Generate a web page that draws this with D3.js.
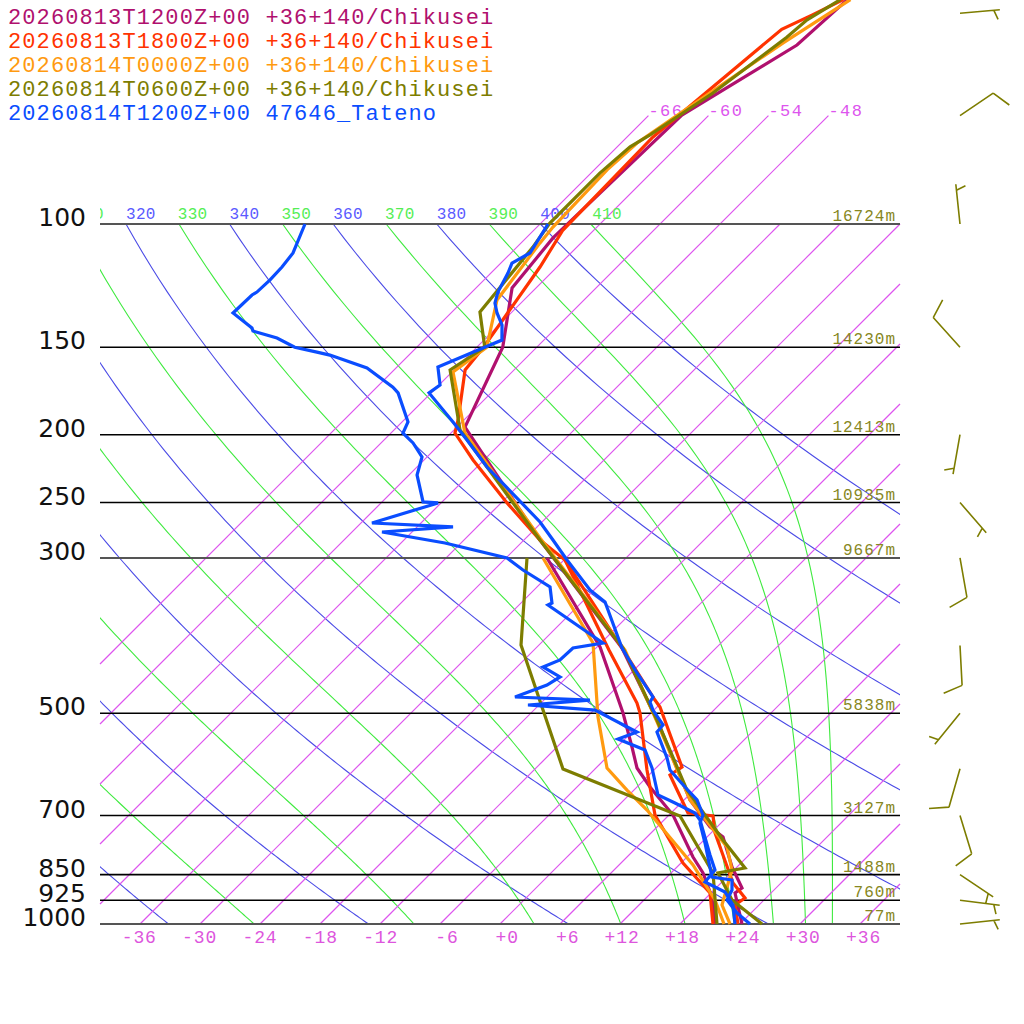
<!DOCTYPE html>
<html><head><meta charset="utf-8">
<script src="https://cdn.jsdelivr.net/npm/d3@7"></script>
<style>body{margin:0;background:#fff}svg{display:block}</style>
</head><body>
<svg id="c" width="1024" height="1024"></svg>
<script>
// ---------------- DATA ----------------
const seriesNames = [
  "20260813T1200Z+00 +36+140/Chikusei",
  "20260813T1800Z+00 +36+140/Chikusei",
  "20260814T0000Z+00 +36+140/Chikusei",
  "20260814T0600Z+00 +36+140/Chikusei",
  "20260814T1200Z+00 47646_Tateno"
];
const seriesColors = ["#b0106e", "#ff3300", "#ff9a10", "#7d7d00", "#0a4dff"];

// [pressure hPa, temperature degC]
const s1T = [[47.8,-57.7],[55.5,-58.2],[69.9,-62.7],[104.7,-63.3],[123.4,-62.4],[150,-57.4],[195,-53.2],[282.8,-34.4],[403.4,-15.4],[511.2,-4.7],[665,6.6],[726.8,11.3],[751.1,13.6],[829,17.5],[888.3,20.6],[903,20.4],[1000,24.2]];
const s1Td = [[300,-31.9],[402,-17.7],[499.5,-8.8],[558.7,-4.5],[598.6,-1.9],[637.2,1.3],[698.7,6.4],[802.2,12.6],[845.5,15.2],[924.1,18.9],[1000,21.5]];

const s2T = [[47.8,-58.1],[50.3,-59.7],[52.7,-61.3],[75.1,-63.4],[102,-63.1],[115.2,-61.7],[150.4,-59.3],[161.6,-58.9],[190.5,-54.6],[198.9,-53.6],[217.3,-49.1],[250.3,-41.4],[282.8,-34.4],[302,-29.9],[399.4,-15.9],[478.7,-6.9],[489.8,-5.7],[596.7,2.5],[612.6,2.1],[694.1,7.7],[701,10.5],[741.3,12.4],[873.8,19.2],[918,21.9],[939.4,21.6],[1000,23.8]];
const s2Td = [[302,-29.9],[406.1,-16.5],[483.4,-8.4],[499.5,-7.1],[602.6,-0.7],[698.7,4.6],[818.2,12.2],[903,17.9],[1000,21.3]];

const s3T = [[47.8,-57.4],[55.1,-59.8],[69.2,-63.0],[76.6,-64.4],[83.7,-64.7],[101,-64.4],[106.5,-64.1],[128.4,-62.7],[150,-59.0],[162.7,-59.9],[198.9,-52.6],[280.9,-34.6],[406.1,-14.9],[514.5,-4.5],[665,6.6],[776.3,15.0],[837.3,17.8],[939.4,20.3],[977.2,22.0],[1000,23.0]];
const s3Td = [[300,-32.3],[396.8,-18.8],[506.2,-10.9],[598.6,-4.9],[643.6,-0.7],[687.3,3.3],[823.6,13.4],[924.1,19.1],[1000,22.4]];

const s4T = [[47.8,-58.4],[51.1,-59.7],[54.1,-60.0],[65.0,-61.8],[74.6,-63.9],[77.6,-64.7],[84.6,-65.1],[99.7,-65.1],[107.9,-64.4],[133.6,-63.2],[150,-59.2],[161.6,-60.4],[196.9,-53.4],[282.8,-34.4],[403.4,-15.3],[511.2,-4.7],[643.6,5.3],[758.6,13.9],[831.8,18.9],[845.5,16.7],[924.1,20.8],[1000,26.2]];
const s4Td = [[300,-33.9],[399.4,-25.8],[600.6,-9.2],[701,7.2],[845.5,16.2],[1000,21.7]];

const s5T = [[100,-65.2],[110.0,-64.1],[113.7,-64.9],[117.5,-64.3],[125.1,-63.4],[129.7,-62.6],[134.0,-61.4],[139.4,-59.7],[146.5,-58.2],[150.4,-59.3],[160.1,-61.9],[169.8,-59.9],[174.3,-60.2],[191.8,-54.9],[203.5,-51.7],[222.4,-47.0],[266.5,-36.2],[282.8,-33.1],[302,-29.7],[333.3,-24.4],[346.7,-21.7],[356,-20.6],[403.4,-15.4],[437.9,-11.4],[473.9,-7.4],[481.8,-7.2],[494.7,-6.1],[519.6,-3.6],[531.8,-3.5],[579.2,0.1],[602.6,1.6],[637.2,4.8],[665,7.3],[698.7,9.4],[717.3,9.9],[766.1,12.4],[856.8,16.5],[865.3,18.8],[894.2,19.8],[924.1,20.3],[964.5,22.6],[1000,25.0]];
const s5Td = [[100,-89.5],[110.0,-87.8],[115.2,-87.5],[120.2,-87.4],[125.1,-87.5],[126.3,-87.7],[134.0,-87.8],[140.8,-84.4],[142.2,-84.0],[145.5,-80.9],[150,-78.2],[152.4,-75.5],[153.9,-73.9],[160.6,-68.9],[171.0,-64.4],[174.3,-63.3],[191.8,-59.4],[198.9,-58.8],[205.5,-56.8],[215.2,-54.5],[228.3,-53.2],[249.5,-49.9],[250.3,-48.3],[267.4,-52.9],[270.9,-44.4],[275.4,-51.0],[285.6,-43.6],[300,-35.9],[312.1,-33.1],[330,-28.7],[347.9,-26.9],[350.2,-27.1],[396.8,-17.8],[403.4,-20.3],[419.6,-20.4],[429.4,-21.4],[443.7,-18.7],[455.6,-19.2],[473.9,-21.2],[478.7,-13.4],[486.6,-19.1],[494.7,-11.9],[531.8,-5.5],[544.1,-6.7],[564.2,-2.9],[598.6,-0.4],[654.2,2.9],[671.7,5.4],[694.1,8.4],[710.3,9.6],[796.9,14.1],[837.3,16.1],[871,16.3],[900.1,19.3],[939.4,21.4],[1000,23.5]];

const pressureLevels = [100,150,200,250,300,500,700,850,925,1000];
const heightLabels = ["16724m","14230m","12413m","10935m","9667m","5838m","3127m","1488m","760m","77m"];
const tempTicks = [-36,-30,-24,-18,-12,-6,0,6,12,18,24,30,36];
const isotherms = [-66,-60,-54,-48,-42,-36,-30,-24,-18,-12,-6,0,6,12,18,24,30,36];
const isothermLabels = [-66,-60,-54,-48];
const dryThetas = [240,260,280,300,320,340,360,380,400];
const moistThetas = [250,270,290,310,330,350,370,390,410];

const windP   = [50,70,100,150,200,250,300,400,500,600,700,850,925,1000];
const windDir = [85,56,354,318,190,139,170,177,219,196,163,124,97,84];
const windSpd = [5,10,5,10,5,5,10,10,5,10,10,5,5,5];

// ---------------- SCALES ----------------
const svg = d3.select("#c");
const y = d3.scaleLog().domain([1000,100]).range([924,224]);
const x = d3.scaleLinear().domain([-40,40]).range([100,900]);
const Y0 = y(1000);
const sx = (T,p) => x(T) + (Y0 - y(p));
const KAPPA = 0.2857;
const MONO = "'Liberation Mono', 'DejaVu Sans Mono', monospace";
const XL = x.range()[0], XR = x.range()[1];

svg.append("rect").attr("width",1024).attr("height",1024).attr("fill","#fff");
const defs = svg.append("defs");
defs.append("clipPath").attr("id","plot").append("rect")
  .attr("x",100).attr("y",0).attr("width",800).attr("height",924);

const bg = svg.append("g").attr("clip-path","url(#plot)");
const lineGen = d3.line().x(d => sx(d[1], d[0])).y(d => y(d[0]));

// dry adiabats
const pGrid = d3.range(100, 1000.1, 5);
function dryPts(th){ return pGrid.map(p => [p, th*Math.pow(p/1000,KAPPA)-273.15]); }
dryThetas.forEach(th => {
  bg.append("path").attr("d", lineGen(dryPts(th)))
    .attr("fill","none").attr("stroke","#4b4be6").attr("stroke-width",1.1);
});

// saturated equivalent potential temperature isopleths (Bolton 1980)
function thetaE(Tk,p){
  const Tc=Tk-273.15;
  const es=6.112*Math.exp(17.67*Tc/(Tc+243.5));
  const r=1000*0.622*es/Math.max(p-es,1e-3);
  return Tk*Math.pow(1000/p,0.2854*(1-0.28e-3*r))*Math.exp((3.376/Tk-0.00254)*r*(1+0.81e-3*r));
}
function moistPts(th){
  return pGrid.map(p=>{
    let lo=150, hi=330;
    for(let k=0;k<60;k++){ const m=(lo+hi)/2; if(thetaE(m,p)>th) hi=m; else lo=m; }
    return [p,(lo+hi)/2-273.15];
  });
}
moistThetas.forEach(th => {
  bg.append("path").attr("d", lineGen(moistPts(th)))
    .attr("fill","none").attr("stroke","#3fea3f").attr("stroke-width",1.1);
});

// isotherms: straight skewed lines, clipped to the plot width
const isoG = svg.append("g");
isotherms.forEach(T => {
  const pTop = T <= -48 ? 70 : 100;
  const x1 = sx(T,1000), y1 = y(1000), span = y1 - y(pTop);
  const t0 = Math.max(0, XL - x1), t1 = Math.min(span, XR - x1);
  if (t1 <= t0) return;
  isoG.append("line")
    .attr("x1", x1 + t0).attr("y1", y1 - t0)
    .attr("x2", x1 + t1).attr("y2", y1 - t1)
    .attr("stroke","#dd55ee").attr("stroke-width",1.2);
});

// theta labels at 100 hPa (only those reaching the plot)
const thetaLab = svg.append("g").attr("clip-path","url(#plot)")
  .attr("font-family",MONO).attr("font-size",16).attr("letter-spacing","0.3px");
const allThetas = dryThetas.map(t=>({t,c:"#5a5aff"})).concat(moistThetas.map(t=>({t,c:"#55ee55"})))
  .filter(d => sx(d.t*Math.pow(0.1,KAPPA)-273.15, 100) > 60);
thetaLab.selectAll("text").data(allThetas).join("text")
  .attr("x", d => sx(d.t*Math.pow(0.1,KAPPA)-273.15, 100))
  .attr("y", y(100)-5)
  .attr("fill", d=>d.c).text(d=>d.t);

// isotherm labels
svg.append("g").attr("font-family",MONO).attr("font-size",17).attr("letter-spacing","1.4px")
  .selectAll("text").data(isothermLabels).join("text")
  .attr("x", T => sx(T,70)).attr("y", y(70))
  .attr("fill","#dd55ee").text(T => (T<0?"-":"+")+Math.abs(T));

// pressure lines
svg.append("g").selectAll("line").data(pressureLevels).join("line")
  .attr("x1",100).attr("x2",900).attr("y1",p=>y(p)).attr("y2",p=>y(p))
  .attr("stroke", p => (p===100||p===1000||p===300) ? "#555" : "#000")
  .attr("stroke-width", p => (p===100||p===1000||p===300) ? 2.2 : 1.6);

// pressure labels
svg.append("g").attr("font-family","'DejaVu Sans', sans-serif").attr("font-size",25)
  .selectAll("text").data(pressureLevels).join("text")
  .attr("x",86).attr("y",p=>y(p)+2).attr("text-anchor","end").attr("fill","#111").text(p=>p);

// height labels
svg.append("g").attr("font-family",MONO).attr("font-size",16).attr("letter-spacing","1px")
  .selectAll("text").data(pressureLevels).join("text")
  .attr("x",896).attr("y",p=>y(p)-3).attr("text-anchor","end").attr("fill","#878722")
  .text((p,i)=>heightLabels[i]);

// temperature tick labels
svg.append("g").attr("font-family",MONO).attr("font-size",18).attr("letter-spacing","0.9px")
  .selectAll("text").data(tempTicks).join("text")
  .attr("x",T => x(T)+19+0.06*T).attr("y",943).attr("text-anchor","end").attr("fill","#dd55dd")
  .text(T => (T<0?"-":"+")+Math.abs(T));

// soundings
const series = [[s1T,s1Td],[s2T,s2Td],[s3T,s3Td],[s4T,s4Td],[s5T,s5Td]];
const snd = svg.append("g");
series.forEach((pair,i)=>{
  pair.forEach(arr=>{
    snd.append("path").attr("d", lineGen(arr))
      .attr("fill","none").attr("stroke", seriesColors[i]).attr("stroke-width",3.2);
  });
});

// legend
svg.append("g").attr("font-family",MONO).attr("font-size",22).attr("letter-spacing","1.1px")
  .selectAll("text").data(seriesNames).join("text")
  .attr("x",8).attr("y",(d,i)=>24+24*i).attr("fill",(d,i)=>seriesColors[i]).text(d=>d);

// wind barbs
const wb = svg.append("g");
windP.forEach((p,i)=>{
  const d = windDir[i]*Math.PI/180;
  const ux=Math.sin(d), uy=-Math.cos(d);
  const bx=960, by=y(p), L=40;
  const tx=bx+ux*L, ty=by+uy*L;
  const px=-uy, py=ux;
  let path=`M${bx},${by}L${tx},${ty}`;
  let spd=windSpd[i], pos=0;
  while(spd>=10){
    const ox=tx-ux*pos, oy=ty-uy*pos;
    path+=`M${ox},${oy}l${20*(0.94*px+0.34*ux)},${20*(0.94*py+0.34*uy)}`;
    pos+=6; spd-=10;
  }
  if(spd>=5){
    if(pos===0) pos=6;
    const ox=tx-ux*pos, oy=ty-uy*pos;
    path+=`M${ox},${oy}l${10*(0.94*px+0.34*ux)},${10*(0.94*py+0.34*uy)}`;
  }
  wb.append("path").attr("d",path)
    .attr("fill","none").attr("stroke","#7d7d00").attr("stroke-width",1.6);
});
</script>
</body></html>
